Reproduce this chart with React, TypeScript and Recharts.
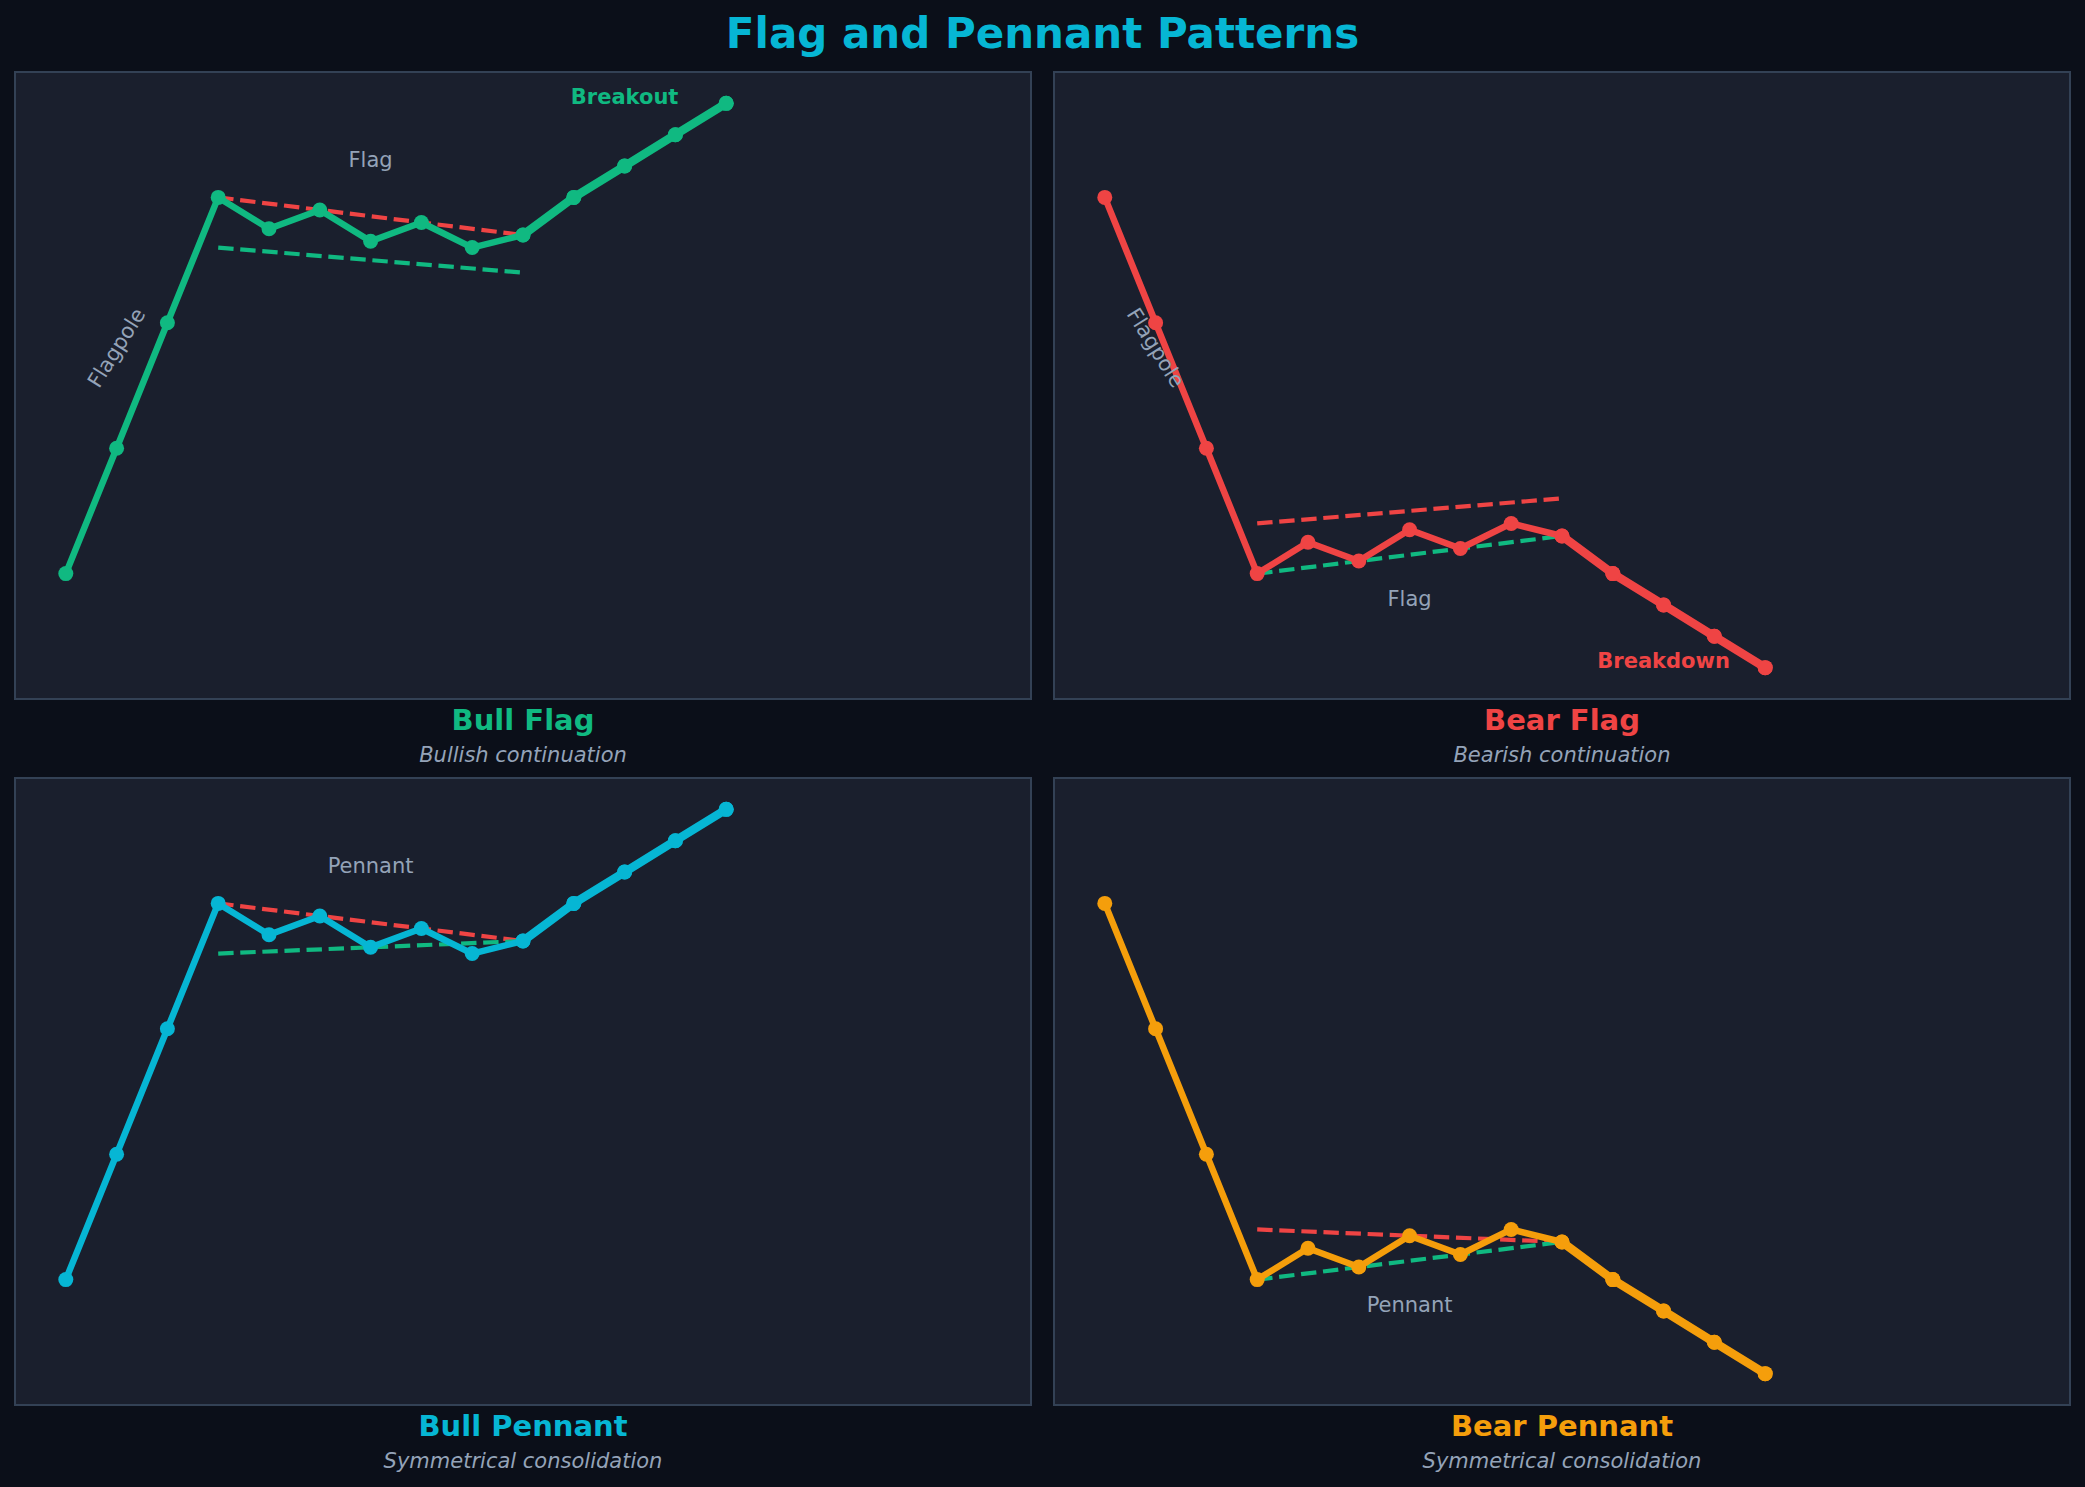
import React from "react";
import { LineChart, Line, XAxis, YAxis, ReferenceDot } from "recharts";

// bar index along the x axis
const steps = [0, 1, 2, 3, 4, 5, 6, 7, 8, 9, 10, 11, 12, 13];

const bullFlagPrice = [0, 1, 2, 3, 2.75, 2.9, 2.65, 2.8, 2.6, 2.7, 3.0, 3.25, 3.5, 3.75];
const bearFlagPrice = [3, 2, 1, 0, 0.25, 0.1, 0.35, 0.2, 0.4, 0.3, 0, -0.25, -0.5, -0.75];
const bullPennantPrice = [0, 1, 2, 3, 2.75, 2.9, 2.65, 2.8, 2.6, 2.7, 3.0, 3.25, 3.5, 3.75];
const bearPennantPrice = [3, 2, 1, 0, 0.25, 0.1, 0.35, 0.2, 0.4, 0.3, 0, -0.25, -0.5, -0.75];

// consolidation trend lines, from bar 3 to bar 9
const trendX = [3, 9];
const bullFlagUpper = [3.0, 2.7];
const bullFlagLower = [2.6, 2.4];
const bearFlagUpper = [0.4, 0.6];
const bearFlagLower = [0.0, 0.3];
const bullPennantUpper = [3.0, 2.7];
const bullPennantLower = [2.6, 2.7];
const bearPennantUpper = [0.4, 0.3];
const bearPennantLower = [0.0, 0.3];

const breakoutStart = 9;

const panelTitles = ["Bull Flag", "Bear Flag", "Bull Pennant", "Bear Pennant"];
const panelSubtitles = [
  "Bullish continuation",
  "Bearish continuation",
  "Symmetrical consolidation",
  "Symmetrical consolidation",
];

type Note = { text: string; x: number; y: number; angle?: number; bold?: boolean; color?: string };

const bullFlagNotes: Note[] = [
  { text: "Flagpole", x: 1, y: 1.8, angle: -58 },
  { text: "Flag", x: 6, y: 3.3 },
  { text: "Breakout", x: 11, y: 3.8, bold: true, color: "#10b981" },
];
const bearFlagNotes: Note[] = [
  { text: "Flagpole", x: 1, y: 1.8, angle: 58 },
  { text: "Flag", x: 6, y: -0.2 },
  { text: "Breakdown", x: 11, y: -0.7, bold: true, color: "#ef4444" },
];
const bullPennantNotes: Note[] = [{ text: "Pennant", x: 6, y: 3.3 }];
const bearPennantNotes: Note[] = [{ text: "Pennant", x: 6, y: -0.2 }];

const FIG_BG = "#0b0f19";
const PANEL_BG = "#1a1f2d";
const BORDER = "#334155";
const MUTED = "#94a3b8";
const GREEN = "#10b981";
const RED = "#ef4444";
const CYAN = "#06b6d4";
const AMBER = "#f59e0b";
const FONT = "'DejaVu Sans', sans-serif";

const PANEL_W = 1016;
const PANEL_H = 627;
const colLeft = [15, 1054];
const rowTop = [72, 778];

const toRows = (ys: number[]) => steps.map((x, i) => ({ x, y: ys[i] }));
const toTrend = (ys: number[]) => trendX.map((x, i) => ({ x, y: ys[i] }));

interface PanelProps {
  price: number[];
  upper: number[];
  lower: number[];
  color: string;
  notes: Note[];
  left: number;
  top: number;
}

function Panel({ price, upper, lower, color, notes, left, top }: PanelProps) {
  const rows = toRows(price);
  const breakout = rows.slice(breakoutStart);
  const dot = { r: 7.5, fill: color, stroke: color, strokeWidth: 0 };
  return (
    <>
      <div
        style={{
          position: "absolute",
          left: left - 1,
          top: top - 1,
          width: PANEL_W + 2,
          height: PANEL_H + 2,
          boxSizing: "border-box",
          background: PANEL_BG,
          border: `2px solid ${BORDER}`,
        }}
      />
      <div style={{ position: "absolute", left, top }}>
        <LineChart width={PANEL_W} height={PANEL_H} data={rows} margin={{ top: 0, right: 0, bottom: 0, left: 0 }}>
          <XAxis type="number" dataKey="x" domain={[-1, 19]} hide allowDataOverflow />
          <YAxis type="number" domain={[-1, 4]} hide allowDataOverflow />
          <Line
            data={toTrend(upper)}
            dataKey="y"
            stroke={RED}
            strokeWidth={4.2}
            strokeDasharray="15.4 6.7"
            dot={false}
            isAnimationActive={false}
          />
          <Line
            data={toTrend(lower)}
            dataKey="y"
            stroke={GREEN}
            strokeWidth={4.2}
            strokeDasharray="15.4 6.7"
            dot={false}
            isAnimationActive={false}
          />
          <Line
            type="linear"
            dataKey="y"
            stroke={color}
            strokeWidth={6.5}
            strokeLinejoin="round"
            dot={dot}
            activeDot={false}
            isAnimationActive={false}
          />
          <Line
            type="linear"
            data={breakout}
            dataKey="y"
            stroke={color}
            strokeWidth={8.5}
            strokeLinejoin="round"
            dot={dot}
            activeDot={false}
            isAnimationActive={false}
          />
          {notes.map((n) => (
            <ReferenceDot
              key={n.text}
              x={n.x}
              y={n.y}
              r={0}
              shape={(p: any) => (
                <text
                  x={p.cx}
                  y={p.cy}
                  textAnchor="middle"
                  dominantBaseline="central"
                  fill={n.color ?? MUTED}
                  fontFamily={FONT}
                  fontSize={21}
                  fontWeight={n.bold ? "bold" : "normal"}
                  transform={n.angle ? `rotate(${n.angle} ${p.cx} ${p.cy})` : undefined}
                >
                  {n.text}
                </text>
              )}
            />
          ))}
        </LineChart>
      </div>
    </>
  );
}

export default function App() {
  const panels = [
    { price: bullFlagPrice, upper: bullFlagUpper, lower: bullFlagLower, color: GREEN, notes: bullFlagNotes },
    { price: bearFlagPrice, upper: bearFlagUpper, lower: bearFlagLower, color: RED, notes: bearFlagNotes },
    { price: bullPennantPrice, upper: bullPennantUpper, lower: bullPennantLower, color: CYAN, notes: bullPennantNotes },
    { price: bearPennantPrice, upper: bearPennantUpper, lower: bearPennantLower, color: AMBER, notes: bearPennantNotes },
  ];
  return (
    <div
      style={{
        position: "absolute",
        left: 0,
        top: 0,
        width: 2085,
        height: 1487,
        background: FIG_BG,
        overflow: "hidden",
        fontFamily: FONT,
      }}
    >
      {panels.map((p, i) => (
        <Panel key={i} {...p} left={colLeft[i % 2]} top={rowTop[Math.floor(i / 2)]} />
      ))}
      <svg width={2085} height={1487} style={{ position: "absolute", left: 0, top: 0, pointerEvents: "none" }}>
        <text x={1042.5} y={48} textAnchor="middle" fill={CYAN} fontFamily={FONT} fontSize={42} fontWeight="bold">
          Flag and Pennant Patterns
        </text>
        {panels.map((p, i) => {
          const cx = colLeft[i % 2] + PANEL_W / 2;
          const bottom = rowTop[Math.floor(i / 2)] + PANEL_H;
          return (
            <g key={i}>
              <text x={cx} y={bottom + 31} textAnchor="middle" fill={p.color} fontFamily={FONT} fontSize={29} fontWeight="bold">
                {panelTitles[i]}
              </text>
              <text x={cx} y={bottom + 63} textAnchor="middle" fill={MUTED} fontFamily={FONT} fontSize={21} fontStyle="italic">
                {panelSubtitles[i]}
              </text>
            </g>
          );
        })}
      </svg>
    </div>
  );
}
